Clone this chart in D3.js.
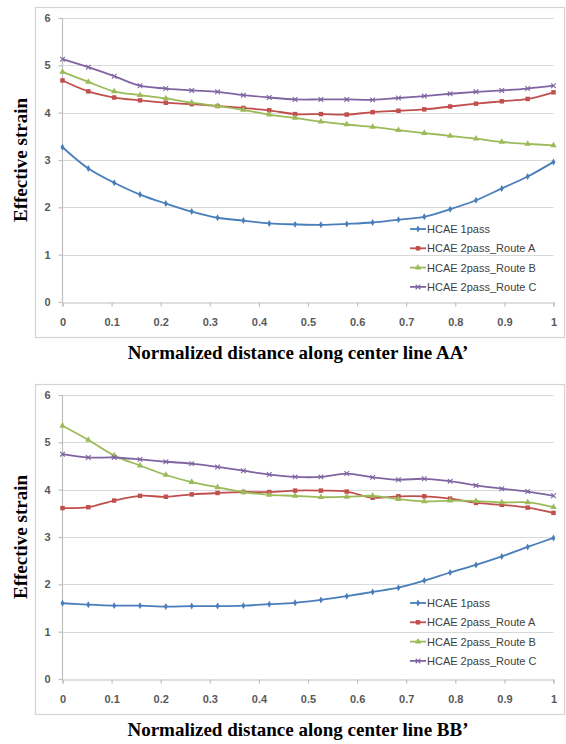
<!DOCTYPE html>
<head>
<meta charset="utf-8">
<style>
body { margin: 0; background: #fff; }
text { font-family: "Liberation Sans", Arial, sans-serif; }
</style>
</head>
<body>
<script src="https://cdn.jsdelivr.net/npm/d3@7"></script>
<script>
// normalized distance (20 nodes along the line)
var xs = [0, 0.0526, 0.1053, 0.1579, 0.2105, 0.2632, 0.3158, 0.3684, 0.4211, 0.4737,
          0.5263, 0.5789, 0.6316, 0.6842, 0.7368, 0.7895, 0.8421, 0.8947, 0.9474, 1];
var xTicks = [0, 0.1, 0.2, 0.3, 0.4, 0.5, 0.6, 0.7, 0.8, 0.9, 1];
var yTicks = [0, 1, 2, 3, 4, 5, 6];
var seriesNames = ["HCAE 1pass", "HCAE 2pass_Route A", "HCAE 2pass_Route B", "HCAE 2pass_Route C"];

// line AA'
var aa1pass = [3.27, 2.82, 2.52, 2.27, 2.08, 1.91, 1.78, 1.72, 1.66, 1.64,
               1.63, 1.65, 1.68, 1.74, 1.80, 1.96, 2.15, 2.40, 2.65, 2.96];
var aaRouteA = [4.68, 4.45, 4.32, 4.26, 4.21, 4.18, 4.14, 4.10, 4.05, 3.97,
                3.97, 3.96, 4.01, 4.04, 4.07, 4.13, 4.19, 4.24, 4.29, 4.43];
var aaRouteB = [4.86, 4.65, 4.45, 4.37, 4.30, 4.21, 4.14, 4.06, 3.96, 3.89,
                3.81, 3.75, 3.70, 3.63, 3.57, 3.51, 3.45, 3.38, 3.34, 3.31];
var aaRouteC = [5.13, 4.96, 4.77, 4.57, 4.51, 4.47, 4.44, 4.37, 4.32, 4.28,
                4.28, 4.28, 4.27, 4.31, 4.35, 4.40, 4.44, 4.47, 4.51, 4.57];

// line BB'
var bb1pass = [1.60, 1.57, 1.55, 1.55, 1.53, 1.54, 1.54, 1.55, 1.58, 1.61,
               1.67, 1.75, 1.84, 1.93, 2.08, 2.25, 2.41, 2.59, 2.79, 2.98];
var bbRouteA = [3.61, 3.63, 3.77, 3.87, 3.85, 3.90, 3.93, 3.95, 3.95, 3.98,
                3.98, 3.96, 3.83, 3.86, 3.86, 3.81, 3.72, 3.68, 3.62, 3.51];
var bbRouteB = [5.35, 5.05, 4.72, 4.51, 4.31, 4.16, 4.05, 3.95, 3.89, 3.87,
                3.84, 3.85, 3.87, 3.80, 3.75, 3.77, 3.76, 3.73, 3.73, 3.63];
var bbRouteC = [4.75, 4.68, 4.68, 4.64, 4.59, 4.55, 4.48, 4.40, 4.32, 4.27,
                4.27, 4.34, 4.26, 4.21, 4.23, 4.18, 4.09, 4.02, 3.96, 3.87];

var colors = ["#4a7ebb", "#c0504d", "#9bbb59", "#8064a2"];
var symbols = [d3.symbolDiamond, d3.symbolSquare, d3.symbolTriangle, d3.symbolTimes];
var symSize = [14, 20, 18, 16];

var width = 566, height = 744;
var svg = d3.select("body").append("svg")
    .attr("width", width)
    .attr("height", height);

drawChart(7, [aa1pass, aaRouteA, aaRouteB, aaRouteC], "Normalized distance along center line AA\u2019", 229);
drawChart(384, [bb1pass, bbRouteA, bbRouteB, bbRouteC], "Normalized distance along center line BB\u2019", 603);

function drawChart(top, data, xTitle, legendY) {
    var g = svg.append("g").attr("transform", "translate(0," + top + ")");

    // frame
    g.append("rect")
        .attr("x", 35.5).attr("y", 0.5)
        .attr("width", 529).attr("height", 330)
        .attr("fill", "#fff")
        .attr("stroke", "#d4d4d4")
        .attr("stroke-width", 1.2);

    var x = d3.scaleLinear().domain([0, 1]).range([62.5, 553.5]);
    var y = d3.scaleLinear().domain([0, 6]).range([295, 11]);

    // gridlines
    g.selectAll(".grid").data(yTicks.slice(1)).enter().append("line")
        .attr("x1", x(0)).attr("x2", x(1))
        .attr("y1", function (d) { return Math.round(y(d)) + 0.5; })
        .attr("y2", function (d) { return Math.round(y(d)) + 0.5; })
        .attr("stroke", "#d9d9d9")
        .attr("stroke-width", 1.2);

    var xAxis = g.append("g")
        .attr("transform", "translate(0," + (Math.round(y(0)) + 0.5) + ")")
        .call(d3.axisBottom(x).tickValues(xTicks).tickSize(4).tickPadding(12)
            .tickFormat(function (d) { return d; }));
    var yAxis = g.append("g")
        .attr("transform", "translate(" + x(0) + ",0)")
        .call(d3.axisLeft(y).tickValues(yTicks).tickSize(4).tickPadding(8)
            .tickFormat(d3.format("d")));
    [xAxis, yAxis].forEach(function (a) {
        a.select(".domain").attr("stroke", "#bfbfbf").attr("stroke-width", 1.2);
        a.selectAll(".tick line").attr("stroke", "#bfbfbf").attr("stroke-width", 1.2);
        a.selectAll("text")
            .attr("fill", "#595959")
            .style("font-family", "'Liberation Sans', Arial, sans-serif")
            .style("font-size", "11px")
            .style("font-weight", "bold");
    });
    yAxis.select(".domain").attr("d", "M0," + y(6) + "V" + y(0));

    var line = d3.line()
        .x(function (d, i) { return x(xs[i]); })
        .y(function (d) { return y(d); })
        .curve(d3.curveCatmullRom.alpha(0.5));

    data.forEach(function (vals, k) {
        g.append("path")
            .attr("d", line(vals))
            .attr("fill", "none")
            .attr("stroke", colors[k])
            .attr("stroke-width", 1.8);
        g.selectAll(".m" + k).data(vals).enter().append("path")
            .attr("transform", function (d, i) { return "translate(" + x(xs[i]) + "," + y(d) + ")"; })
            .attr("d", d3.symbol().type(symbols[k]).size(symSize[k]))
            .attr("fill", k == 3 ? "none" : colors[k])
            .attr("stroke", k == 3 ? colors[k] : "none")
            .attr("stroke-width", 1.1);
    });

    // legend
    var leg = g.append("g");
    seriesNames.forEach(function (name, k) {
        var ly = legendY - top + k * 19.3;
        leg.append("line")
            .attr("x1", 410).attr("x2", 426)
            .attr("y1", ly).attr("y2", ly)
            .attr("stroke", colors[k]).attr("stroke-width", 1.8);
        leg.append("path")
            .attr("transform", "translate(418," + ly + ")")
            .attr("d", d3.symbol().type(symbols[k]).size(symSize[k]))
            .attr("fill", k == 3 ? "none" : colors[k])
            .attr("stroke", k == 3 ? colors[k] : "none")
            .attr("stroke-width", 1.1);
        leg.append("text")
            .attr("x", 427).attr("y", ly + 4)
            .attr("fill", "#404040")
            .style("font-size", "11px")
            .text(name);
    });

    // axis titles
    g.append("text")
        .attr("transform", "translate(27," + y(3) + ") rotate(-90)")
        .attr("text-anchor", "middle")
        .style("font-family", "'Liberation Serif', 'Times New Roman', serif")
        .style("font-weight", "bold")
        .style("font-size", "19px")
        .text("Effective strain");
    g.append("text")
        .attr("x", 298).attr("y", 352)
        .attr("text-anchor", "middle")
        .style("font-family", "'Liberation Serif', 'Times New Roman', serif")
        .style("font-weight", "bold")
        .style("font-size", "19px")
        .text(xTitle);
}
</script>
</body>
</html>
